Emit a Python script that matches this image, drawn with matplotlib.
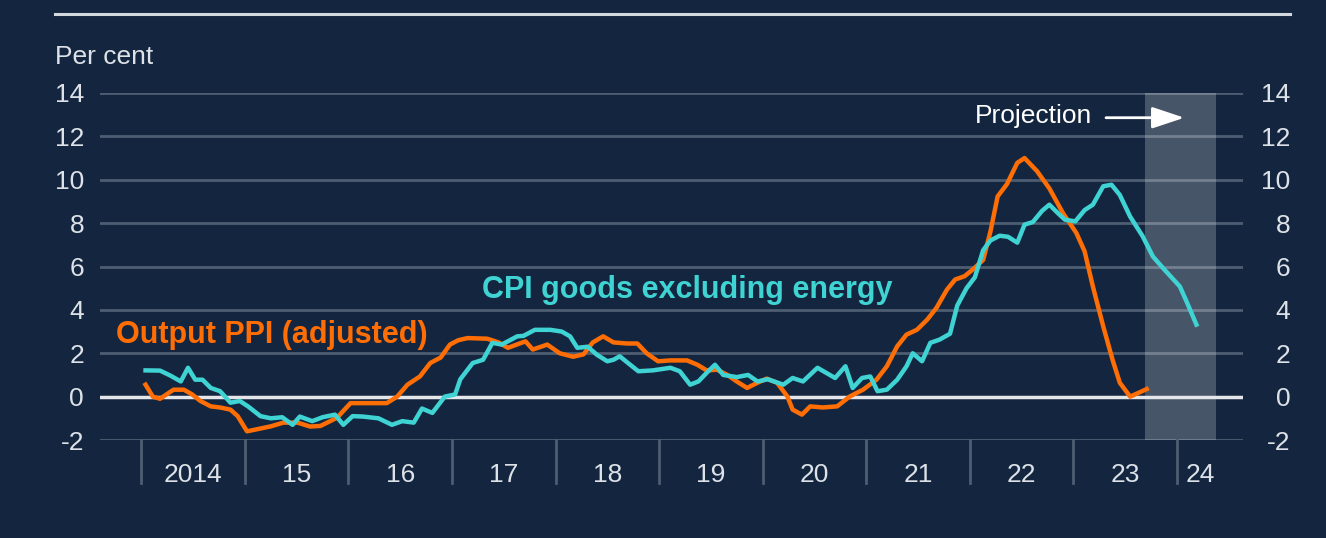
import matplotlib
matplotlib.use("Agg")
import matplotlib.pyplot as plt
import matplotlib.transforms as mtransforms
from matplotlib.lines import Line2D

# (decimal year, per cent)
cpi_years = [2014.04, 2014.18, 2014.28, 2014.38, 2014.45, 2014.52, 2014.59, 2014.67, 2014.76, 2014.86,
             2014.95, 2015.03, 2015.15, 2015.25, 2015.36, 2015.46, 2015.53, 2015.65, 2015.75, 2015.87,
             2015.95, 2016.04, 2016.14, 2016.29, 2016.42, 2016.52, 2016.63, 2016.71, 2016.81, 2016.93,
             2017.03, 2017.08, 2017.20, 2017.30, 2017.39, 2017.48, 2017.63, 2017.69, 2017.80, 2017.95,
             2018.06, 2018.14, 2018.21, 2018.31, 2018.40, 2018.50, 2018.56, 2018.62, 2018.70, 2018.80,
             2018.94, 2019.11, 2019.20, 2019.30, 2019.38, 2019.46, 2019.54, 2019.62, 2019.75, 2019.86,
             2019.95, 2020.05, 2020.20, 2020.29, 2020.39, 2020.53, 2020.70, 2020.80, 2020.87, 2020.96,
             2021.04, 2021.11, 2021.20, 2021.30, 2021.39, 2021.45, 2021.54, 2021.62, 2021.71, 2021.81,
             2021.88, 2021.97, 2022.05, 2022.13, 2022.20, 2022.29, 2022.37, 2022.46, 2022.53, 2022.61,
             2022.70, 2022.77, 2022.85, 2022.92, 2023.02, 2023.11, 2023.19, 2023.29, 2023.37, 2023.45,
             2023.55, 2023.67, 2023.77, 2023.88, 2024.03, 2024.10, 2024.19]
cpi_vals = [1.21, 1.20, 0.97, 0.70, 1.33, 0.78, 0.78, 0.40, 0.25, -0.28,
            -0.20, -0.45, -0.90, -1.00, -0.95, -1.30, -0.92, -1.13, -0.95, -0.83,
            -1.30, -0.90, -0.92, -1.00, -1.30, -1.13, -1.20, -0.55, -0.75, 0.00,
            0.10, 0.80, 1.55, 1.70, 2.48, 2.40, 2.78, 2.80, 3.08, 3.08,
            3.00, 2.78, 2.25, 2.30, 1.93, 1.63, 1.70, 1.86, 1.55, 1.17,
            1.21, 1.33, 1.17, 0.55, 0.70, 1.10, 1.47, 1.00, 0.90, 1.00,
            0.70, 0.80, 0.55, 0.86, 0.70, 1.33, 0.86, 1.40, 0.40, 0.86,
            0.93, 0.25, 0.32, 0.78, 1.40, 2.00, 1.63, 2.48, 2.63, 2.90,
            4.20, 5.00, 5.50, 6.75, 7.20, 7.42, 7.37, 7.10, 7.93, 8.05,
            8.57, 8.85, 8.47, 8.16, 8.08, 8.60, 8.85, 9.70, 9.77, 9.30,
            8.30, 7.40, 6.46, 5.86, 5.08, 4.33, 3.32]

ppi_years = [2014.04, 2014.11, 2014.18, 2014.31, 2014.41, 2014.49, 2014.57, 2014.67, 2014.76, 2014.86,
             2014.93, 2015.02, 2015.12, 2015.25, 2015.37, 2015.51, 2015.63, 2015.73, 2015.89, 2016.02,
             2016.14, 2016.37, 2016.47, 2016.57, 2016.69, 2016.79, 2016.89, 2016.98, 2017.06, 2017.15,
             2017.34, 2017.45, 2017.54, 2017.71, 2017.78, 2017.92, 2018.04, 2018.17, 2018.27, 2018.36,
             2018.46, 2018.56, 2018.69, 2018.79, 2018.88, 2018.99, 2019.11, 2019.27, 2019.37, 2019.46,
             2019.56, 2019.66, 2019.75, 2019.85, 2019.95, 2020.04, 2020.14, 2020.24, 2020.29, 2020.38,
             2020.46, 2020.58, 2020.72, 2020.84, 2020.97, 2021.10, 2021.20, 2021.30, 2021.39, 2021.49,
             2021.59, 2021.68, 2021.78, 2021.86, 2021.95, 2022.03, 2022.13, 2022.20, 2022.27, 2022.36,
             2022.46, 2022.53, 2022.65, 2022.77, 2022.90, 2023.03, 2023.11, 2023.19, 2023.29, 2023.38,
             2023.45, 2023.55, 2023.62, 2023.71]
ppi_vals = [0.55, 0.00, -0.10, 0.32, 0.32, 0.10, -0.20, -0.45, -0.50, -0.60,
            -0.90, -1.60, -1.50, -1.37, -1.20, -1.20, -1.38, -1.35, -0.97, -0.30,
            -0.30, -0.30, 0.00, 0.55, 0.93, 1.55, 1.80, 2.40, 2.60, 2.70,
            2.67, 2.50, 2.25, 2.55, 2.17, 2.40, 2.00, 1.84, 1.95, 2.50,
            2.78, 2.50, 2.45, 2.45, 2.00, 1.63, 1.67, 1.67, 1.47, 1.21,
            1.24, 1.00, 0.70, 0.40, 0.64, 0.83, 0.64, 0.00, -0.60, -0.83,
            -0.45, -0.50, -0.45, 0.00, 0.32, 0.78, 1.40, 2.32, 2.86, 3.08,
            3.55, 4.10, 4.93, 5.40, 5.55, 5.86, 6.30, 7.60, 9.23, 9.80,
            10.78, 11.00, 10.40, 9.60, 8.47, 7.55, 6.70, 5.08, 3.24, 1.70,
            0.64, 0.00, 0.15, 0.35]

year_edges = list(range(2014, 2025))
year_labels = ["2014", "15", "16", "17", "18", "19", "20", "21", "22", "23", "24"]
yticks = [-2, 0, 2, 4, 6, 8, 10, 12, 14]
projection = (2023.69, 2024.38)

bg = "#14263f"
grid_col = "#4d5d72"
text_col = "#dde2e8"
orange = "#ff6d05"
cyan = "#3fd3d3"

plt.rcParams["font.family"] = ["Liberation Sans", "DejaVu Sans"]

fig = plt.figure(figsize=(13.26, 5.38), dpi=100, facecolor=bg)
ax = fig.add_axes([100 / 1326, 1 - 440 / 538, 1143 / 1326, 347 / 538])
ax.set_facecolor(bg)
ax.set_xlim(2013.6, 2024.64)
ax.set_ylim(-2, 14)
for s in ax.spines.values():
    s.set_visible(False)

for y in yticks:
    if y == 0:
        continue
    ax.axhline(y, color=grid_col, lw=2, zorder=1)
ax.axhline(0, color="#e4e6ea", lw=2.5, zorder=2)

# projection shading, see-through so the grid shows faintly
ax.axvspan(projection[0], projection[1], color="white", alpha=0.22, lw=0, zorder=1.5)

ax.plot(ppi_years, ppi_vals, color=orange, lw=3.2, zorder=3, solid_joinstyle="round")
ax.plot(cpi_years, cpi_vals, color=cyan, lw=3.2, zorder=4, solid_joinstyle="round")

# y tick labels both sides
ax.set_yticks(yticks)
ax.set_yticklabels([str(t) for t in yticks])
ax.tick_params(axis="y", length=0, pad=11.5, labelsize=19, labelcolor=text_col)
ax2 = ax.twinx()
ax2.set_ylim(-2, 14)
for s in ax2.spines.values():
    s.set_visible(False)
ax2.set_yticks(yticks)
ax2.set_yticklabels([str(t) for t in yticks])
ax2.tick_params(axis="y", length=0, pad=34, labelsize=19, labelcolor=text_col)
for lab in ax2.get_yticklabels():
    lab.set_horizontalalignment("right")

# x axis: year separators and labels
ax.set_xticks([])
trans = mtransforms.blended_transform_factory(ax.transData, ax.transAxes)
for x in year_edges:
    ax.plot([x, x], [0, -0.124], transform=trans, color=grid_col, lw=2, clip_on=False)
for i, lab in enumerate(year_labels):
    xc = year_edges[i] + 0.5 if i < len(year_labels) - 1 else 2024.23
    ax.text(xc, -0.101, lab, transform=trans, ha="center", va="center",
            fontsize=19, color=text_col)

# series labels
ax.text(2013.75, 2.49, "Output PPI (adjusted)", color=orange, fontsize=22,
        fontweight="bold", va="baseline", ha="left")
ax.text(2017.29, 4.56, "CPI goods excluding energy", color=cyan, fontsize=22,
        fontweight="bold", va="baseline", ha="left")
ax.text(2022.05, 12.63, "Projection", color="white", fontsize=19, va="baseline", ha="left")
ax.annotate("", xy=(2024.1, 12.86), xytext=(2023.29, 12.86),
            arrowprops=dict(arrowstyle="-|>,head_length=0.9,head_width=0.3",
                            color="white", lw=2, mutation_scale=22))

fig.text(55 / 1326, 1 - 57 / 538, "Per cent", color=text_col, fontsize=19, va="center", ha="left")
fig.add_artist(Line2D([55 / 1326, 1290 / 1326], [1 - 14 / 538, 1 - 14 / 538],
                      color="#d3d8de", lw=2.2))

fig.savefig("out.png", dpi=100, facecolor=bg)
